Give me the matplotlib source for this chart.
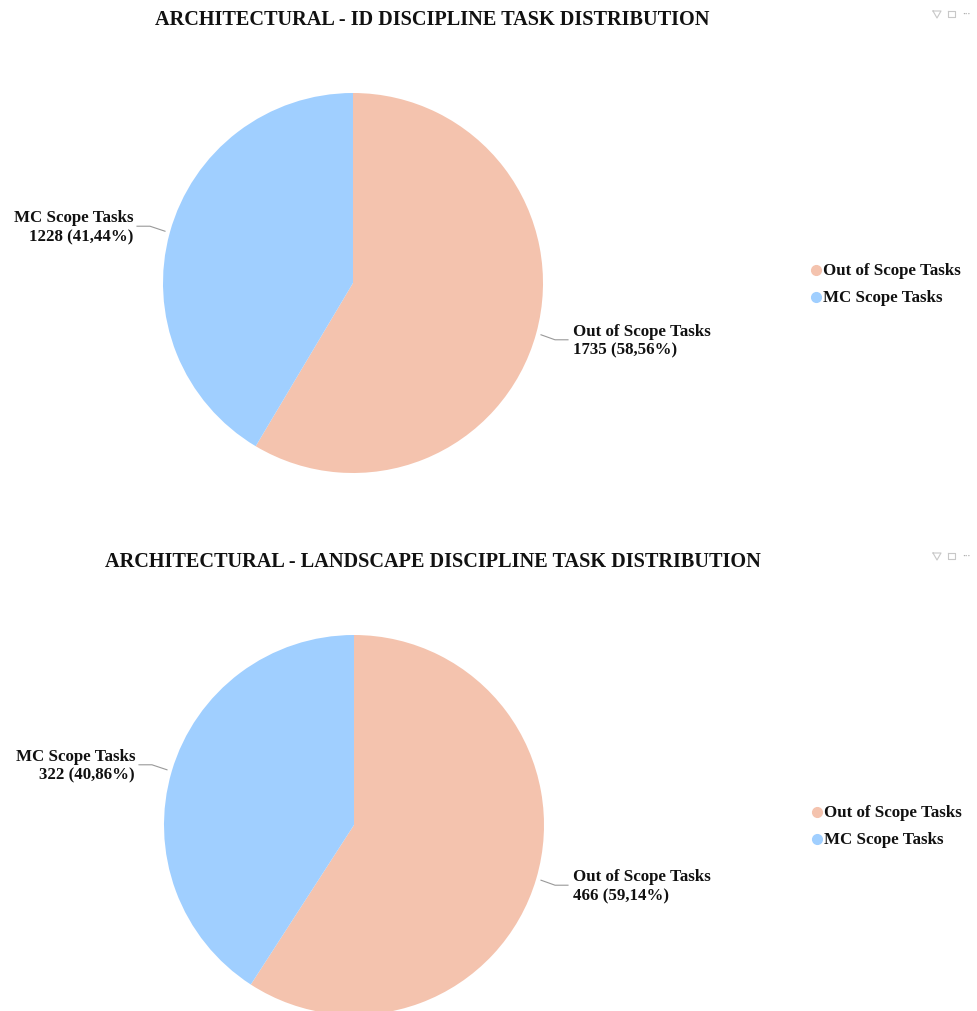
import numpy as np
import matplotlib
matplotlib.use("Agg")
import matplotlib.pyplot as plt
from matplotlib.lines import Line2D

plt.rcParams["font.family"] = "Liberation Serif"
plt.rcParams["font.weight"] = "bold"

W, H = 977, 1012

categories = ["Out of Scope Tasks", "MC Scope Tasks"]
colors = ["#F4C3AE", "#A0CFFF"]

id_title = "ARCHITECTURAL - ID DISCIPLINE TASK DISTRIBUTION"
id_values = [1735, 1228]
id_pct = ["58,56%", "41,44%"]

land_title = "ARCHITECTURAL - LANDSCAPE DISCIPLINE TASK DISTRIBUTION"
land_values = [466, 322]
land_pct = ["59,14%", "40,86%"]

fig = plt.figure(figsize=(W / 100, H / 100), dpi=100)


def fx(x):
    return x / W


def fy(y):
    return 1 - y / H


def draw_pie(title, values, pct, cx, cy, r, title_x, title_y, left_x, right_x, legend_x, legend_y):
    ax = fig.add_axes([fx(cx - r), fy(cy + r), 2 * r / W, 2 * r / H])
    ax.pie(values, colors=colors, startangle=90, counterclock=False, radius=1)
    ax.set_xlim(-1, 1)
    ax.set_ylim(-1, 1)
    fig.text(fx(title_x), fy(title_y), title, fontsize=14.6, ha="center", va="center", color="#111111")

    # leader lines start just outside the slice middle
    total = sum(values)
    start = 0
    for i, v in enumerate(values):
        mid = (start + v / 2) / total * 2 * np.pi
        start += v
        x0 = cx + (r + 5) * np.sin(mid)
        y0 = cy - (r + 5) * np.cos(mid)
        y1 = y0 + 5 if i == 0 else y0 - 5
        if i == 0:
            xs = [x0, x0 + 14, right_x - 5]
        else:
            xs = [x0, x0 - 15, left_x + 4]
        fig.add_artist(Line2D([fx(a) for a in xs], [fy(y0), fy(y1), fy(y1)], color="#999999", lw=0.8))
        line2 = f"{v} ({pct[i]})"
        if i == 0:
            fig.text(fx(right_x), fy(y1 - 9), categories[i], fontsize=12.15, ha="left", va="center", color="#111111")
            fig.text(fx(right_x), fy(y1 + 10), line2, fontsize=12.15, ha="left", va="center", color="#111111")
        else:
            fig.text(fx(left_x), fy(y1 - 9), categories[i], fontsize=12.15, ha="right", va="center", color="#111111")
            fig.text(fx(left_x), fy(y1 + 10), line2, fontsize=12.15, ha="right", va="center", color="#111111")

    for i, name in enumerate(categories):
        yy = legend_y + i * 27
        fig.add_artist(Line2D([fx(legend_x)], [fy(yy)], marker="o", ms=7, color=colors[i], ls="none"))
        fig.text(fx(legend_x + 7), fy(yy), name, fontsize=12.15, ha="left", va="center", color="#111111")

    # toolbar icons in the corner of each visual
    ic = "#c8c8c8"
    iy = title_y - 5
    fig.add_artist(Line2D([fx(933), fx(941), fx(937), fx(933)], [fy(iy - 3), fy(iy - 3), fy(iy + 4), fy(iy - 3)], color=ic, lw=0.8))
    fig.add_artist(Line2D([fx(948), fx(955), fx(955), fx(948), fx(948)], [fy(iy - 3), fy(iy - 3), fy(iy + 3), fy(iy + 3), fy(iy - 3)], color=ic, lw=0.8))
    fig.text(fx(966), fy(iy - 1), "···", fontsize=6, ha="center", va="center", color="#aaaaaa")


draw_pie(id_title, id_values, id_pct, 353, 284, 190, 432, 20, 133, 573, 816, 271)
draw_pie(land_title, land_values, land_pct, 354, 826, 190, 433, 562, 135, 573, 817, 813)

fig.savefig("out.png", dpi=100)
